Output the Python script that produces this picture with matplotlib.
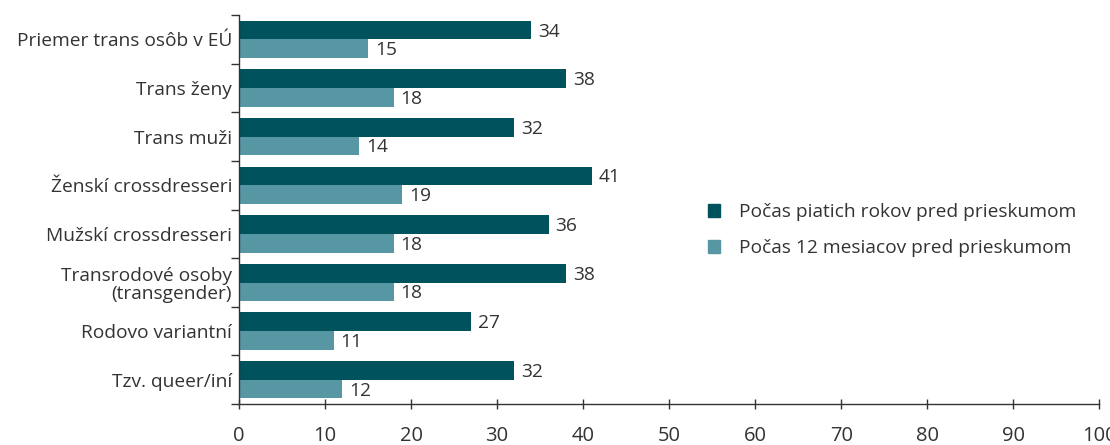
import numpy as np
import matplotlib
matplotlib.use("Agg")
import matplotlib.pyplot as plt
from matplotlib.patches import Patch

plt.rcParams['font.family'] = ['Open Sans', 'DejaVu Sans']

categories = ['Priemer trans osôb v EÚ', 'Trans ženy', 'Trans muži',
              'Ženskí crossdresseri', 'Mužskí crossdresseri',
              'Transrodové osoby\n(transgender)', 'Rodovo variantní',
              'Tzv. queer/iní']
five_years = [34, 38, 32, 41, 36, 38, 27, 32]
twelve_months = [15, 18, 14, 19, 18, 18, 11, 12]
series_names = ['Počas piatich rokov pred prieskumom',
                'Počas 12 mesiacov pred prieskumom']

dark = '#00525c'
light = '#5697a3'
txt = '#333333'
fs = 13.8

fig = plt.figure(figsize=(11.1, 4.45), dpi=100)
ax = fig.add_axes([0.2153, 0.092, 0.775, 0.874])

y = np.arange(len(categories))
h = 0.385
ax.barh(y - h / 2, five_years, height=h, color=dark)
ax.barh(y + h / 2, twelve_months, height=h, color=light)

# value labels next to the bars
for yi, v in zip(y, five_years):
    ax.text(v + 0.8, yi - h / 2 + 0.03, str(v), va='center', ha='left',
            fontsize=fs, color=txt)
for yi, v in zip(y, twelve_months):
    ax.text(v + 0.8, yi + h / 2 + 0.03, str(v), va='center', ha='left',
            fontsize=fs, color=txt)

ax.set_xlim(0, 100)
ax.set_ylim(len(categories) - 0.5, -0.5)
ax.set_xticks(range(0, 101, 10))
ax.tick_params(axis='x', labelsize=14.5, colors=txt, length=7, width=1,
               direction='inout', pad=12)

# category labels centred, ticks at boundaries
ax.set_yticks(y)
ax.set_yticklabels(categories, fontsize=fs, color=txt, ha='right',
                   multialignment='right', linespacing=1.05)
ax.tick_params(axis='y', length=0, pad=5)
ax.set_yticks(np.arange(-0.5, len(categories), 1), minor=True)
ax.tick_params(axis='y', which='minor', length=6, width=1, color=txt)

for s in ['top', 'right']:
    ax.spines[s].set_visible(False)
for s in ['left', 'bottom']:
    ax.spines[s].set_color(txt)
    ax.spines[s].set_linewidth(1)

handles = [Patch(color=dark), Patch(color=light)]
leg = ax.legend(handles, series_names, loc='center left',
                bbox_to_anchor=(0.545, 0.447), frameon=False, fontsize=fs,
                handlelength=0.65, handleheight=0.65, handletextpad=1.0,
                labelspacing=0.95, borderpad=0, borderaxespad=0)
for t in leg.get_texts():
    t.set_color(txt)

fig.savefig('out.png', dpi=100)
